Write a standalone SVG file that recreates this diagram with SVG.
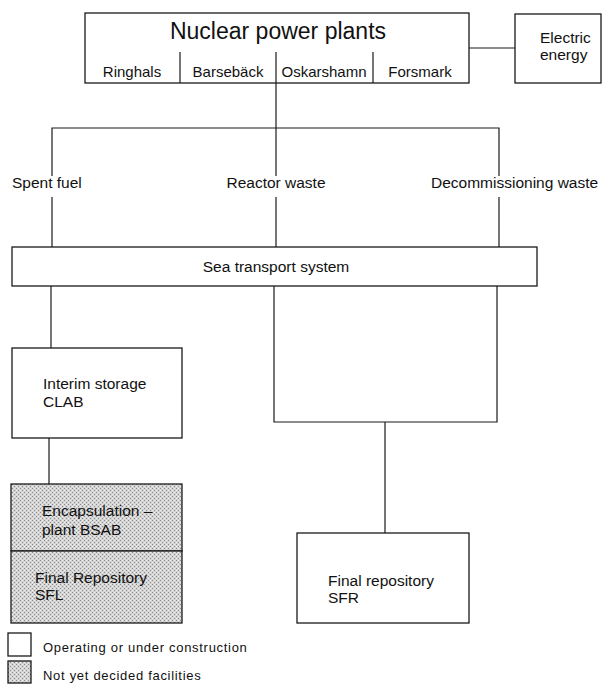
<svg xmlns="http://www.w3.org/2000/svg" width="605" height="693" viewBox="0 0 605 693">
<defs>
<pattern id="stip" width="4" height="4" patternUnits="userSpaceOnUse">
<rect width="4" height="4" fill="#d4d4d4"/>
<rect x="0" y="0" width="1" height="1" fill="#8a8a8a"/>
<rect x="2" y="2" width="1" height="1" fill="#8a8a8a"/>
<rect x="2" y="0" width="1" height="1" fill="#f0f0f0"/>
<rect x="0" y="2" width="1" height="1" fill="#f0f0f0"/>
</pattern>
</defs>
<style>
.box{fill:#fff;stroke:#1a1a1a;stroke-width:1.3}
.sh{fill:url(#stip);stroke:#1a1a1a;stroke-width:1.3}
.ln{fill:none;stroke:#1a1a1a;stroke-width:1.2}
text{font-family:"Liberation Sans",Arial,sans-serif;font-size:15.5px;fill:#111}
.sub{font-size:15px}
.title{font-size:23px}
.leg{font-size:13px;letter-spacing:0.7px}
</style>
<rect width="605" height="693" fill="#fff"/>
<g id="connectors">
<line class="ln" x1="469" y1="48" x2="515" y2="48"/>
<line class="ln" x1="276" y1="83" x2="276" y2="128"/>
<polyline class="ln" points="52,176 52,128 499,128 499,176"/>
<line class="ln" x1="276" y1="128" x2="276" y2="176"/>
<line class="ln" x1="52" y1="197" x2="52" y2="247"/>
<line class="ln" x1="276" y1="197" x2="276" y2="247"/>
<line class="ln" x1="499" y1="197" x2="499" y2="247"/>
<line class="ln" x1="51" y1="286" x2="51" y2="348"/>
<polyline class="ln" points="274,286 274,422 497,422 497,286"/>
<line class="ln" x1="385" y1="422" x2="385" y2="533"/>
<line class="ln" x1="49" y1="438" x2="49" y2="484"/>
</g>
<g id="nuclear">
<rect class="box" x="85" y="13" width="384" height="70"/>
<text class="title" x="278" y="39" text-anchor="middle">Nuclear power plants</text>
<line class="ln" x1="180" y1="52" x2="180" y2="83"/>
<line class="ln" x1="276" y1="52" x2="276" y2="83"/>
<line class="ln" x1="373" y1="52" x2="373" y2="83"/>
<text class="sub" x="132" y="77" text-anchor="middle">Ringhals</text>
<text class="sub" x="228" y="77" text-anchor="middle">Barsebäck</text>
<text class="sub" x="324" y="77" text-anchor="middle">Oskarshamn</text>
<text class="sub" x="420" y="77" text-anchor="middle">Forsmark</text>
</g>
<g id="electric">
<rect class="box" x="515" y="14" width="86" height="69"/>
<text x="540" y="43">Electric</text>
<text x="540" y="60">energy</text>
</g>
<g id="labels">
<text x="12" y="188">Spent fuel</text>
<text x="276" y="188" text-anchor="middle">Reactor waste</text>
<text x="431" y="188">Decommissioning waste</text>
</g>
<g id="sea">
<rect class="box" x="12" y="247" width="525" height="39"/>
<text x="276" y="272" text-anchor="middle">Sea transport system</text>
</g>
<g id="clab">
<rect class="box" x="12" y="348" width="170" height="90"/>
<text x="43" y="389">Interim storage</text>
<text x="43" y="407">CLAB</text>
</g>
<g id="bsab">
<rect class="sh" x="11" y="484" width="171" height="67"/>
<text x="42" y="516">Encapsulation –</text>
<text x="42" y="535">plant BSAB</text>
</g>
<g id="sfl">
<rect class="sh" x="11" y="551" width="171" height="72"/>
<text x="35" y="583">Final Repository</text>
<text x="35" y="600">SFL</text>
</g>
<g id="sfr">
<rect class="box" x="297" y="533" width="172" height="90"/>
<text x="328" y="586">Final repository</text>
<text x="328" y="603">SFR</text>
</g>
<g id="legend">
<rect class="box" x="8" y="633" width="23" height="23"/>
<text class="leg" x="43" y="652">Operating or under construction</text>
<rect class="sh" x="8" y="661" width="23" height="22"/>
<text class="leg" x="43" y="680">Not yet decided facilities</text>
</g>
</svg>
